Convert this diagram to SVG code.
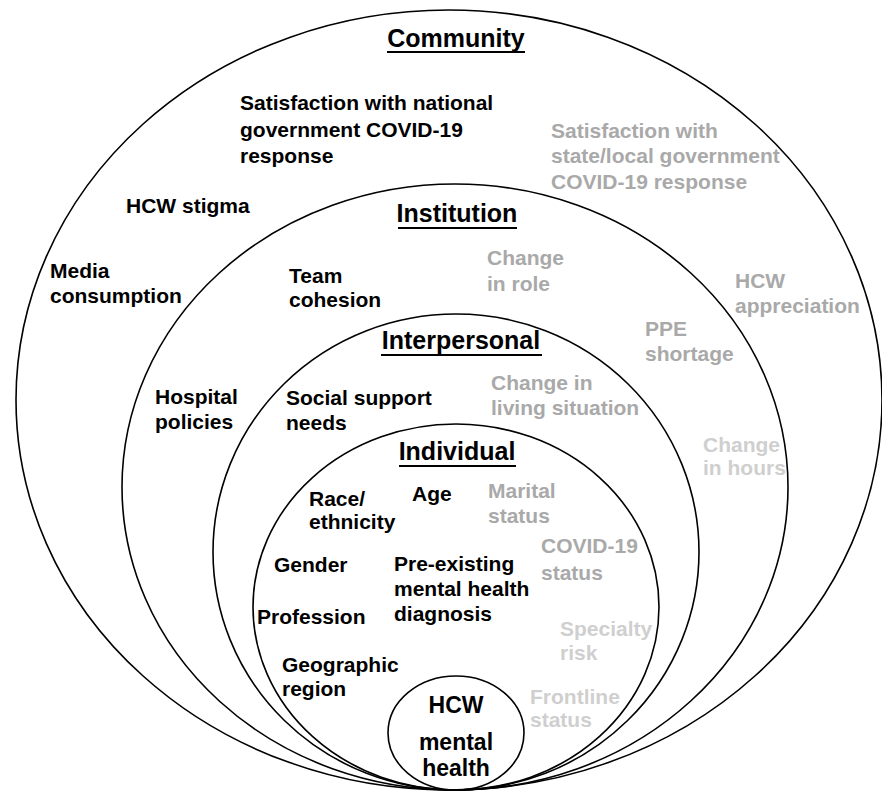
<svg xmlns="http://www.w3.org/2000/svg" width="882" height="793" viewBox="0 0 882 793">
<style>
.ring{fill:none;stroke:#000;stroke-width:1.6}
text{font-family:"Liberation Sans",Arial,sans-serif;font-weight:bold;font-size:21px;fill:#000}
.title{font-size:25px}
.ul{stroke:#000;stroke-width:2}
.g1{fill:#a9a9a9}
.g2{fill:#cfcfcf}
.hcw{font-size:23px;text-anchor:middle}
</style>
<rect width="882" height="793" fill="#fff"/>
<g id="connectors"></g>
<g id="community">
<ellipse class="ring" cx="449" cy="400" rx="433" ry="390"/>
<text class="title" x="456" y="47" text-anchor="middle">Community</text>
<line class="ul" x1="387" y1="52" x2="525" y2="52"/>
<text x="240" y="110">Satisfaction with national</text>
<text x="240" y="137">government COVID-19</text>
<text x="240" y="163">response</text>
<text class="g1" x="551" y="138">Satisfaction with</text>
<text class="g1" x="551" y="163">state/local government</text>
<text class="g1" x="551" y="189">COVID-19 response</text>
<text x="126" y="213">HCW stigma</text>
<text x="50" y="278">Media</text>
<text x="50" y="303">consumption</text>
<text class="g1" x="735" y="288">HCW</text>
<text class="g1" x="735" y="313">appreciation</text>
</g>
<g id="institution">
<ellipse class="ring" cx="455" cy="487" rx="333" ry="303"/>
<text class="title" x="457" y="222" text-anchor="middle">Institution</text>
<line class="ul" x1="398" y1="228" x2="517" y2="228"/>
<text x="289" y="283">Team</text>
<text x="289" y="307">cohesion</text>
<text class="g1" x="487" y="265">Change</text>
<text class="g1" x="487" y="291">in role</text>
<text class="g1" x="645" y="336">PPE</text>
<text class="g1" x="645" y="361">shortage</text>
<text x="155" y="404">Hospital</text>
<text x="155" y="429">policies</text>
<text class="g2" x="703" y="452">Change</text>
<text class="g2" x="703" y="475">in hours</text>
</g>
<g id="interpersonal">
<ellipse class="ring" cx="456" cy="552" rx="243" ry="238"/>
<text class="title" x="461" y="349" text-anchor="middle">Interpersonal</text>
<line class="ul" x1="381" y1="355" x2="542" y2="355"/>
<text x="286" y="405">Social support</text>
<text x="286" y="430">needs</text>
<text class="g1" x="491" y="390">Change in</text>
<text class="g1" x="491" y="415">living situation</text>
</g>
<g id="individual">
<ellipse class="ring" cx="456" cy="607" rx="203" ry="183"/>
<text class="title" x="457" y="460" text-anchor="middle">Individual</text>
<line class="ul" x1="399" y1="466" x2="516" y2="466"/>
<text x="309" y="506">Race/</text>
<text x="309" y="529">ethnicity</text>
<text x="412" y="501">Age</text>
<text class="g1" x="488" y="498">Marital</text>
<text class="g1" x="488" y="523">status</text>
<text class="g1" x="541" y="553">COVID-19</text>
<text class="g1" x="541" y="580">status</text>
<text x="274" y="572">Gender</text>
<text x="394" y="571">Pre-existing</text>
<text x="394" y="596">mental health</text>
<text x="394" y="621">diagnosis</text>
<text x="257" y="624">Profession</text>
<text class="g2" x="560" y="636">Specialty</text>
<text class="g2" x="560" y="660">risk</text>
<text x="282" y="672">Geographic</text>
<text x="282" y="696">region</text>
<text class="g2" x="530" y="704">Frontline</text>
<text class="g2" x="530" y="727">status</text>
</g>
<g id="hcw-mental-health">
<ellipse class="ring" cx="456" cy="733" rx="68" ry="57"/>
<text class="hcw" x="456" y="713">HCW</text>
<text class="hcw" x="456" y="750">mental</text>
<text class="hcw" x="456" y="776">health</text>
</g>
</svg>
